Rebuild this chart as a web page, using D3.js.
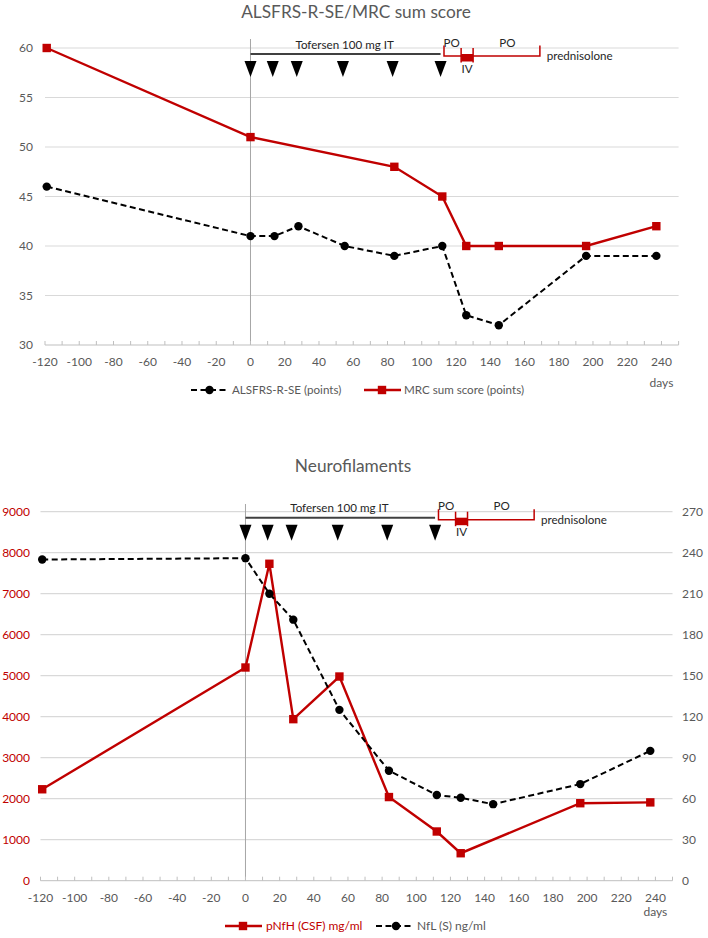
<!DOCTYPE html>
<html>
<head>
<meta charset="utf-8">
<script src="https://cdn.jsdelivr.net/npm/d3@7"></script>
<style>
  html, body { margin: 0; padding: 0; background: #fff; }
  svg { display: block; font-family: Lato, "Open Sans", sans-serif; }
</style>
</head>
<body>
<svg id="chart" width="708" height="938"></svg>
<script>
// ---------- data ----------
const alsDays   = [-119, 0, 14, 28, 55, 84, 112, 126, 145, 196, 237];
const alsValues = [46, 41, 41, 42, 40, 39, 40, 33, 32, 39, 39];

const mrcDays   = [-119, 0, 84, 112, 126, 145, 196, 237];
const mrcValues = [60, 51, 48, 45, 40, 40, 40, 42];

const pnfhDays   = [-119, 0, 14, 28, 55, 84, 112, 126, 196, 237];
const pnfhValues = [2230, 5200, 7730, 3940, 4980, 2040, 1200, 670, 1890, 1910];

const nflDays   = [-119, 0, 14, 28, 55, 84, 112, 126, 145, 196, 237];
const nflValues = [235, 236, 210, 191, 125, 80.5, 62.7, 60.7, 56, 70.7, 95];

const doseDays = [0, 13, 27, 54, 83, 111];
const tofersenEnd = 111;
const poStart = 113, ivStart = 123, ivEnd = 130, poEnd = 169;

const xTickLabels = [-120, -100, -80, -60, -40, -20, 0, 20, 40, 60, 80, 100, 120, 140, 160, 180, 200, 220, 240];
const xMinorTicks = d3.range(-120, 251, 10);
const topYTicks = [30, 35, 40, 45, 50, 55, 60];
const leftYTicks = [0, 1000, 2000, 3000, 4000, 5000, 6000, 7000, 8000, 9000];
const rightYTicks = [0, 30, 60, 90, 120, 150, 180, 210, 240, 270];

const titles = ["ALSFRS-R-SE/MRC sum score", "Neurofilaments"];
const legendTop = ["ALSFRS-R-SE (points)", "MRC sum score (points)"];
const legendBottom = ["pNfH (CSF) mg/ml", "NfL (S) ng/ml"];

// ---------- style ----------
const RED = "#C00000";
const GRID = "#D9D9D9";
const TXT = "#595959";
const TICK_FS = 12;
const ANN_FS = 11.6;
const LEG_FS = 11.6;
const svg = d3.select("#chart");

function annotations(g, x, yTop) {
  // Tofersen bar
  g.append("line").attr("x1", x(0)).attr("x2", x(tofersenEnd))
    .attr("y1", yTop + 6).attr("y2", yTop + 6).attr("stroke", "#404040").attr("stroke-width", 2);
  g.append("text").attr("x", x(55)).attr("y", yTop + 0.5).attr("text-anchor", "middle")
    .attr("font-size", ANN_FS).attr("fill", "#262626").text("Tofersen 100 mg IT");
  // dose triangles
  g.selectAll("path.dose").data(doseDays).enter().append("path")
    .attr("d", d => `M${x(d) - 6},${yTop + 13}L${x(d) + 6},${yTop + 13}L${x(d)},${yTop + 29}Z`)
    .attr("fill", "#000");
  // prednisolone bracket
  const yb = yTop + 8;
  g.append("path")
    .attr("d", `M${x(poStart)},${yTop - 2.5}V${yb}H${x(poEnd)}V${yTop - 2.5}`)
    .attr("fill", "none").attr("stroke", RED).attr("stroke-width", 1.5);
  g.append("rect").attr("x", x(ivStart)).attr("y", yTop + 6)
    .attr("width", x(ivEnd) - x(ivStart)).attr("height", 7.5).attr("fill", RED);
  [ivStart, ivEnd].forEach(d => {
    g.append("line").attr("x1", x(d)).attr("x2", x(d)).attr("y1", yTop).attr("y2", yTop + 14.5)
      .attr("stroke", RED).attr("stroke-width", 1.5);
  });
  g.append("text").attr("x", x(117.5)).attr("y", yTop - 1.5).attr("text-anchor", "middle")
    .attr("font-size", ANN_FS).attr("fill", "#262626").text("PO");
  g.append("text").attr("x", x(150)).attr("y", yTop - 1.5).attr("text-anchor", "middle")
    .attr("font-size", ANN_FS).attr("fill", "#262626").text("PO");
  g.append("text").attr("x", x(126.5)).attr("y", yTop + 24.5).attr("text-anchor", "middle")
    .attr("font-size", ANN_FS).attr("fill", "#262626").text("IV");
  g.append("text").attr("x", x(173)).attr("y", yTop + 12).attr("text-anchor", "start")
    .attr("font-size", ANN_FS).attr("fill", "#262626").text("prednisolone");
}

function xAxis(g, x, y0, labelY, daysY) {
  g.append("line").attr("x1", x.range()[0]).attr("x2", x.range()[1])
    .attr("y1", y0).attr("y2", y0).attr("stroke", "#BFBFBF").attr("stroke-width", 1);
  g.selectAll("line.mt").data(xMinorTicks).enter().append("line")
    .attr("x1", d => x(d)).attr("x2", d => x(d)).attr("y1", y0).attr("y2", y0 - 4)
    .attr("stroke", "#BFBFBF").attr("stroke-width", 1);
  g.selectAll("text.xl").data(xTickLabels).enter().append("text")
    .attr("x", d => x(d)).attr("y", labelY).attr("text-anchor", "middle")
    .attr("font-size", TICK_FS).attr("fill", TXT).text(d => d);
  g.append("text").attr("x", x(240)).attr("y", daysY).attr("text-anchor", "middle")
    .attr("font-size", TICK_FS).attr("fill", TXT).text("days");
}

function dashedSeries(g, x, y, days, vals) {
  const pts = days.map((d, i) => [x(d), y(vals[i])]);
  g.append("path").attr("d", d3.line()(pts)).attr("fill", "none")
    .attr("stroke", "#000").attr("stroke-width", 2).attr("stroke-dasharray", "6,3.5");
  g.selectAll(null).data(pts).enter().append("circle")
    .attr("cx", p => p[0]).attr("cy", p => p[1]).attr("r", 4.2).attr("fill", "#000");
}
function redSeries(g, x, y, days, vals) {
  const pts = days.map((d, i) => [x(d), y(vals[i])]);
  g.append("path").attr("d", d3.line()(pts)).attr("fill", "none")
    .attr("stroke", RED).attr("stroke-width", 2.4);
  g.selectAll(null).data(pts).enter().append("rect")
    .attr("x", p => p[0] - 4.2).attr("y", p => p[1] - 4.2).attr("width", 8.4).attr("height", 8.4)
    .attr("fill", RED);
}

// ================= TOP CHART =================
{
  const g = svg.append("g");
  const x = d3.scaleLinear().domain([-120, 250]).range([45, 678.6]);
  const y = d3.scaleLinear().domain([30, 60]).range([345, 48]);

  g.append("text").attr("x", 356).attr("y", 17.5).attr("text-anchor", "middle")
    .attr("font-size", 17.3).attr("fill", TXT).text(titles[0]);

  g.selectAll("line.grid").data(topYTicks.slice(1)).enter().append("line")
    .attr("x1", x.range()[0]).attr("x2", x.range()[1])
    .attr("y1", d => y(d)).attr("y2", d => y(d)).attr("stroke", GRID).attr("stroke-width", 1.2);
  g.selectAll("text.yl").data(topYTicks).enter().append("text")
    .attr("x", 33).attr("y", d => y(d) + 4.2).attr("text-anchor", "end")
    .attr("font-size", TICK_FS).attr("fill", TXT).text(d => d);

  g.append("line").attr("x1", x(0)).attr("x2", x(0)).attr("y1", 39).attr("y2", y(30))
    .attr("stroke", "#A6A6A6").attr("stroke-width", 1);

  xAxis(g, x, y(30), 365.5, 387);
  annotations(g, x, y(60));

  dashedSeries(g, x, y, alsDays, alsValues);
  redSeries(g, x, y, mrcDays, mrcValues);

  // legend
  const ly = 390;
  g.append("line").attr("x1", 191).attr("x2", 228).attr("y1", ly).attr("y2", ly)
    .attr("stroke", "#000").attr("stroke-width", 2).attr("stroke-dasharray", "6,3.5");
  g.append("circle").attr("cx", 209.5).attr("cy", ly).attr("r", 4.2).attr("fill", "#000");
  g.append("text").attr("x", 232).attr("y", ly + 4).attr("font-size", LEG_FS).attr("fill", TXT).text(legendTop[0]);
  g.append("line").attr("x1", 364).attr("x2", 401).attr("y1", ly).attr("y2", ly)
    .attr("stroke", RED).attr("stroke-width", 2.4);
  g.append("rect").attr("x", 382 - 4.2).attr("y", ly - 4.2).attr("width", 8.4).attr("height", 8.4).attr("fill", RED);
  g.append("text").attr("x", 404).attr("y", ly + 4).attr("font-size", LEG_FS).attr("fill", TXT).text(legendTop[1]);
}

// ================= BOTTOM CHART =================
{
  const g = svg.append("g");
  const x = d3.scaleLinear().domain([-120, 250]).range([40.5, 672.5]);
  const yL = d3.scaleLinear().domain([0, 9000]).range([880.7, 511.7]);
  const yR = d3.scaleLinear().domain([0, 270]).range([880.7, 511.7]);

  g.append("text").attr("x", 353).attr("y", 472).attr("text-anchor", "middle")
    .attr("font-size", 17.3).attr("fill", TXT).text(titles[1]);

  g.selectAll("line.grid").data(leftYTicks.slice(1)).enter().append("line")
    .attr("x1", x.range()[0]).attr("x2", x.range()[1])
    .attr("y1", d => yL(d)).attr("y2", d => yL(d)).attr("stroke", GRID).attr("stroke-width", 1.2);
  g.selectAll("text.yl").data(leftYTicks).enter().append("text")
    .attr("x", 30).attr("y", d => yL(d) + 4.2).attr("text-anchor", "end")
    .attr("font-size", TICK_FS).attr("fill", RED).text(d => d);
  g.selectAll("text.yr").data(rightYTicks).enter().append("text")
    .attr("x", 682).attr("y", d => yR(d) + 4.2).attr("text-anchor", "start")
    .attr("font-size", TICK_FS).attr("fill", TXT).text(d => d);

  g.append("line").attr("x1", x(0)).attr("x2", x(0)).attr("y1", 504).attr("y2", yL(0))
    .attr("stroke", "#A6A6A6").attr("stroke-width", 1);

  xAxis(g, x, yL(0), 901.5, 915.5);
  annotations(g, x, yL(9000));

  redSeries(g, x, yL, pnfhDays, pnfhValues);
  dashedSeries(g, x, yR, nflDays, nflValues);

  // legend
  const ly = 926;
  g.append("line").attr("x1", 225).attr("x2", 262).attr("y1", ly).attr("y2", ly)
    .attr("stroke", RED).attr("stroke-width", 2.4);
  g.append("rect").attr("x", 243 - 4.2).attr("y", ly - 4.2).attr("width", 8.4).attr("height", 8.4).attr("fill", RED);
  g.append("text").attr("x", 266).attr("y", ly + 4).attr("font-size", 12).attr("fill", RED).text(legendBottom[0]);
  g.append("line").attr("x1", 376).attr("x2", 413).attr("y1", ly).attr("y2", ly)
    .attr("stroke", "#000").attr("stroke-width", 2).attr("stroke-dasharray", "6,3.5");
  g.append("circle").attr("cx", 396).attr("cy", ly).attr("r", 4.2).attr("fill", "#000");
  g.append("text").attr("x", 417).attr("y", ly + 4).attr("font-size", 12).attr("fill", TXT).text(legendBottom[1]);
}
</script>
</body>
</html>
